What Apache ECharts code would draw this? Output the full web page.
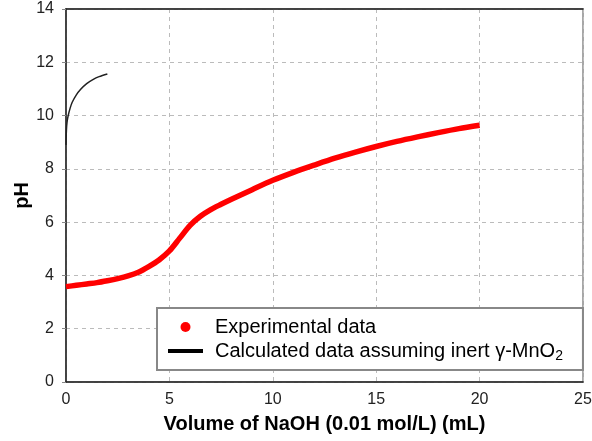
<!DOCTYPE html>
<html><head><meta charset="utf-8">
<script src="https://cdn.jsdelivr.net/npm/echarts@6/dist/echarts.min.js"></script>
<style>html,body{margin:0;padding:0;background:#fff}#c{width:592px;height:441px}</style>
</head><body><div id="c"></div>
<script>
// Experimental data (volume mL, pH)
const expX = [0, 0.5, 1, 1.5, 2, 2.5, 3, 3.5, 4, 4.5, 5, 5.5, 6, 6.5, 7, 7.5, 8, 9, 10, 11, 12, 13, 14, 15, 16, 17, 18, 19, 20];
const expY = [3.58, 3.63, 3.68, 3.73, 3.8, 3.88, 3.98, 4.12, 4.33, 4.58, 4.92, 5.4, 5.88, 6.22, 6.47, 6.67, 6.86, 7.22, 7.57, 7.87, 8.14, 8.4, 8.63, 8.84, 9.03, 9.2, 9.36, 9.51, 9.64];
// Calculated data assuming inert γ-MnO2
const calcX = [0, 0.02, 0.05, 0.1, 0.2, 0.3, 0.5, 0.7, 1.0, 1.3, 1.6, 2.0];
const calcY = [8.9, 9.45, 9.75, 9.98, 10.28, 10.5, 10.78, 10.98, 11.2, 11.35, 11.46, 11.56];
const xTicks = [0, 5, 10, 15, 20, 25];
const yTicks = [0, 2, 4, 6, 8, 10, 12, 14];
const expName = 'Experimental data';
const calcName = 'Calculated data assuming inert γ-MnO2';

const font = '"Liberation Sans", Arial, sans-serif';
const chart = echarts.init(document.getElementById('c'), null, {renderer: 'canvas'});
chart.setOption({
  animation: false,
  grid: {left: 66, right: 9, top: 9, bottom: 59, show: true, borderColor: '#8a8a8a', borderWidth: 1.5,
    containLabel: false, outerBoundsMode: 'none'},
  xAxis: [{
    type: 'value', min: xTicks[0], max: xTicks[xTicks.length-1], interval: 5,
    name: 'Volume of NaOH (0.01 mol/L) (mL)', nameLocation: 'middle', nameGap: 32, nameMoveOverlap: false,
    nameTextStyle: {fontFamily: font, fontWeight: 'bold', fontSize: 20, color: '#000'},
    axisLine: {lineStyle: {color: '#222', width: 1.5}},
    axisTick: {show: false},
    axisLabel: {fontFamily: font, fontSize: 16, color: '#222', margin: 10},
    splitLine: {show: true, lineStyle: {color: '#bbb', type: [4, 4], width: 1}}
  }, {
    type: 'value', position: 'top', min: 0, max: 25,
    axisLine: {show: true, lineStyle: {color: '#222', width: 1.5}},
    axisTick: {show: false}, axisLabel: {show: false}, splitLine: {show: false}
  }],
  yAxis: {
    type: 'value', min: yTicks[0], max: yTicks[yTicks.length-1], interval: 2,
    name: 'pH', nameLocation: 'middle', nameGap: 34, nameRotate: 90, nameMoveOverlap: false,
    nameTextStyle: {fontFamily: font, fontWeight: 'bold', fontSize: 20, color: '#000'},
    axisLine: {lineStyle: {color: '#222', width: 1.5}},
    axisTick: {show: true, length: 4, inside: false, lineStyle: {color: '#888'}},
    axisLabel: {fontFamily: font, fontSize: 16, color: '#222', margin: 12},
    splitLine: {show: true, lineStyle: {color: '#bbb', type: [4, 4], width: 1}}
  },
  legend: {
    orient: 'vertical', left: 157, top: 308,
    backgroundColor: '#fff', borderColor: '#888', borderWidth: 2,
    padding: [9, 20, 7, 11], itemGap: 4, itemWidth: 35, itemHeight: 10,
    textStyle: {fontFamily: font, fontSize: 20, color: '#000', padding: [0, 0, 0, 7],
      rich: {s: {fontFamily: font, fontSize: 14, color: '#000', padding: [10, 0, 0, 0]}}},
    formatter: n => n === calcName ? 'Calculated data assuming inert γ-MnO{s|2}' : n,
    data: [
      {name: expName, icon: 'circle', itemStyle: {color: '#ff0000'}},
      {name: calcName, icon: 'path://M0,0H35V4H0Z', itemStyle: {color: '#000'}}
    ]
  },
  series: [{
    name: expName, type: 'line', symbol: 'none', smooth: 0.3,
    data: expX.map((x, i) => [x, expY[i]]),
    lineStyle: {color: '#ff0000', width: 5.5}, itemStyle: {color: '#ff0000'}, z: 3
  }, {
    name: calcName, type: 'line', symbol: 'none', smooth: 0.3,
    data: calcX.map((x, i) => [x, calcY[i]]),
    lineStyle: {color: '#222', width: 1.5}, itemStyle: {color: '#000'}, z: 4
  }]
});
</script></body></html>
